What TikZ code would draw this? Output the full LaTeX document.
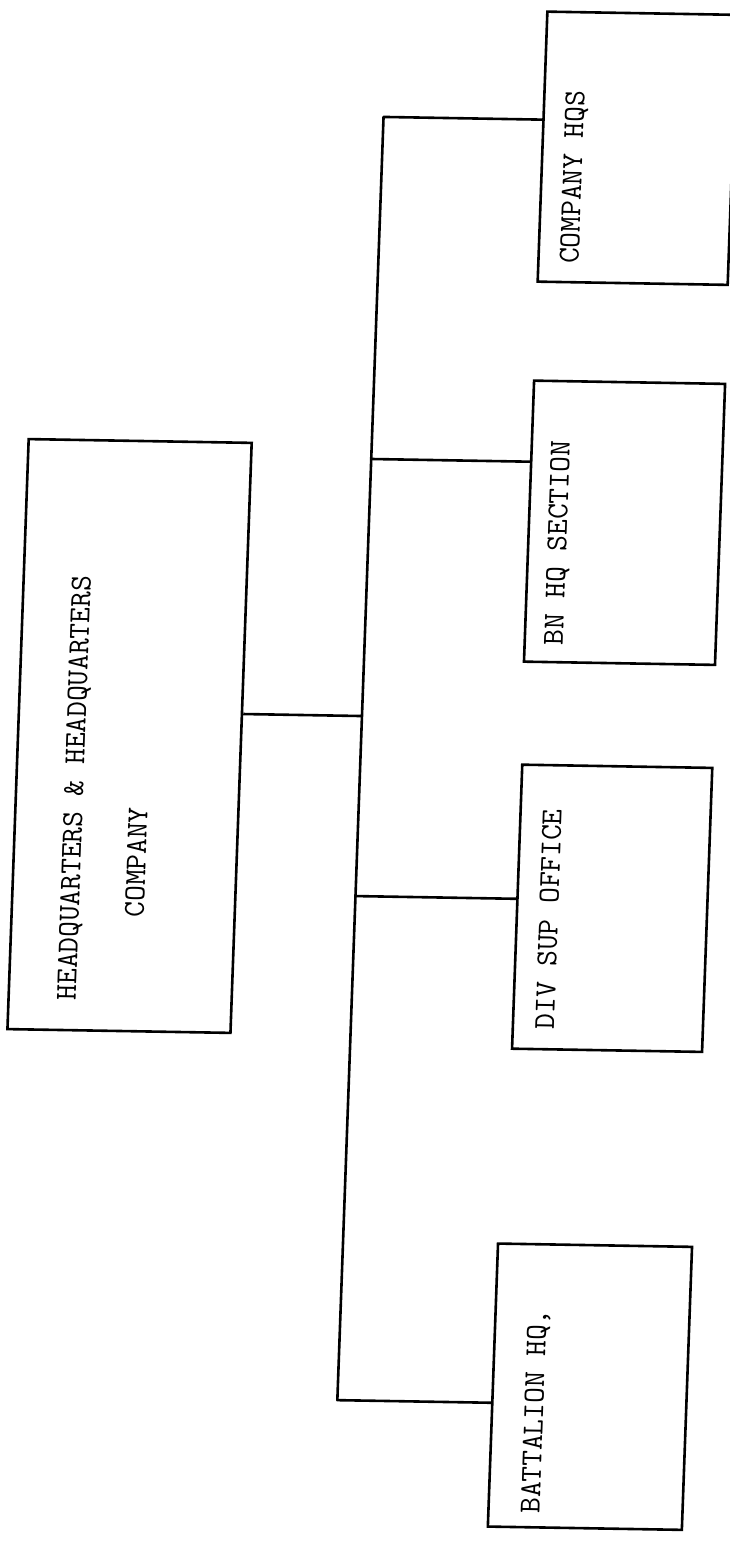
\documentclass[tikz,border=0pt]{standalone}
\usepackage{fontspec}
\usepackage{tikz}
\usetikzlibrary{positioning,calc}
\tikzset{
  orgbox/.style={draw, line width=2.6pt, rectangle, inner sep=0pt},
  orgline/.style={line width=2.6pt, line join=round},
  typed/.style={font=\ttfamily\fontsize{30.5}{36}\selectfont, rotate=90, inner sep=0pt, text height=0.62em, text depth=0pt}
}
\begin{document}
\begin{tikzpicture}[x=1pt, y=-1pt]
  \useasboundingbox (0,0) rectangle (730,1544);
  % the sheet was scanned a little askew
  \begin{scope}[cm={1,-0.017,0.036,1,(27.7pt,6.2pt)}, transform shape]
    \node[orgbox, minimum width=223pt, minimum height=590pt] (hhc) at (128.5,740) {};
    \node[typed] (hhcTop) at (81,793) {HEADQUARTERS \& HEADQUARTERS};
    \node[typed] (hhcBot) at (146,866) {COMPANY};

    \node[orgbox, minimum width=190pt, minimum height=270pt] (coHqs) at (615,144) {};
    \node[typed] (coHqsText) at (557,174) {COMPANY HQS};
    \node[orgbox, minimum width=191pt, minimum height=281pt] (bnHq) at (615.5,518.5) {};
    \node[typed] (bnHqText) at (555,540) {BN HQ SECTION};
    \node[orgbox, minimum width=190pt, minimum height=284pt] (divSup) at (617,904) {};
    \node[typed] (divSupText) at (560,916) {DIV SUP OFFICE};
    \node[orgbox, minimum width=194pt, minimum height=283pt] (btnHq) at (612,1382.5) {};
    \node[typed] (btnHqText) at (563,1408) {BATTALION HQ,};

    \coordinate (jCo) at (360,117);
    \coordinate (jBn) at (360,459);
    \coordinate (jHhc) at (360,716);
    \coordinate (jDiv) at (360,896);
    \coordinate (jBtn) at (360,1400);
    \draw[orgline] (coHqs.west |- jCo) -- (jCo) -- (jBtn) -- (btnHq.west |- jBtn);
    \draw[orgline] (hhc.east |- jHhc) -- (jHhc);
    \draw[orgline] (jBn) -- (bnHq.west |- jBn);
    \draw[orgline] (jDiv) -- (divSup.west |- jDiv);
  \end{scope}
\end{tikzpicture}
\end{document}
